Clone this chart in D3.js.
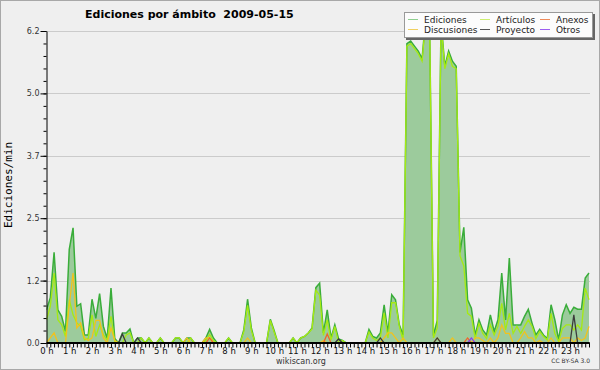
<!DOCTYPE html>
<html>
<head>
<meta charset="utf-8">
<script src="https://cdn.jsdelivr.net/npm/d3@7"></script>
<style>
  body { margin: 0; background: #efefef; }
  svg text { font-family: "DejaVu Sans", sans-serif; }
</style>
</head>
<body>
<div id="chart"></div>
<script>
// edits per minute, one value every 10 minutes (144 per day)
var ediciones = [
  0.66,0.9,1.8,0.66,0.53,0.23,1.86,2.29,0.73,0.78,0.16,0.16,
  0.87,0.49,0.98,0.33,0.09,1.09,0.09,0,0.2,0.2,0.28,0,
  0.1,0.1,0,0.1,0,0,0.1,0,0,0,0.1,0.1,
  0,0.1,0.1,0,0,0,0.1,0.27,0.1,0,0,0,
  0.1,0,0,0,0.26,0.87,0.3,0,0,0,0,0.47,
  0.25,0,0,0,0,0.1,0,0.1,0.13,0.2,0.3,1.1,
  1.19,0.2,0.66,0.1,0.36,0.08,0.05,0,0,0,0,0,
  0,0.27,0.13,0.1,0.2,0.76,0.2,0.96,0.86,0.36,0.16,5.95,
  6.0,5.9,5.8,5.65,6.5,6.3,0.15,0.45,6.4,5.5,5.8,5.6,
  5.5,1.8,2.3,0.86,0.69,0.16,0.46,0.26,0.16,0.56,0.23,0.46,
  1.39,0.46,1.69,0.36,0.36,0.36,0.53,0.67,0.39,0.16,0.27,0.16,
  0.09,0.76,0.46,0.06,0.56,0.76,0.59,0.71,0.67,0.67,1.29,1.39
];
var articulos = [
  0.46,0.73,1.39,0.46,0.36,0.13,0.86,0.56,0.4,0.33,0.06,0.09,
  0.56,0.13,0.36,0.16,0.06,0.53,0.03,0,0,0.16,0.2,0,
  0,0.1,0,0.1,0,0,0.1,0,0,0,0.1,0.1,
  0,0,0.1,0,0,0,0.05,0.17,0.05,0,0,0,
  0.1,0,0,0,0.22,0.75,0.25,0,0,0,0,0.45,
  0.22,0,0,0,0,0.1,0,0.1,0.13,0.2,0.28,1.05,
  0.95,0.15,0.46,0.06,0.33,0,0.05,0,0,0,0,0,
  0,0.22,0.1,0.05,0.1,0.6,0.1,0.8,0.8,0.33,0.05,5.9,
  5.95,5.85,5.75,5.6,6.45,6.25,0.1,0.3,6.35,5.45,5.75,5.5,
  5.45,1.73,1.53,0.59,0.53,0.09,0.39,0.19,0.09,0.36,0.16,0.33,
  0.79,0.26,0.59,0.19,0.33,0.19,0.33,0.46,0.33,0.09,0.23,0.13,
  0.06,0.59,0.19,0.03,0.29,0.36,0.36,0.26,0.36,0.26,1.09,0.86
];
var discusiones = [
  0,0.1,0.2,0,0,0,0.75,1.39,0.3,0.4,0.1,0.05,
  0.1,0.45,0.45,0.1,0,0.3,0.05,0,0,0,0,0,
  0,0,0,0,0,0,0,0,0,0,0,0,
  0,0.1,0,0,0,0,0.1,0.1,0,0,0,0,
  0,0,0,0,0,0.1,0,0,0,0,0,0,
  0,0,0,0,0,0,0,0,0,0,0,0,
  0,0.05,0,0,0,0,0,0,0,0,0,0,
  0,0,0,0,0,0.1,0.2,0.2,0.1,0,0.1,0,
  0,0,0,0,0,0,0,0.1,0,0,0,0.1,
  0,0,0,0,0,0.1,0.1,0.05,0,0.1,0,0.1,
  0.36,0.19,0.19,0,0,0.1,0.23,0.1,0.1,0,0.05,0,
  0,0.1,0,0,0.1,0.1,0.1,0,0.1,0.05,0.1,0.33
];
var proyecto = [
  0,0,0,0,0,0,0,0,0,0,0,0,
  0,0,0,0,0,0,0,0,0.18,0,0,0,
  0.1,0,0,0,0,0,0,0,0,0,0,0,
  0,0,0,0,0,0,0,0,0,0,0,0,
  0,0,0,0,0,0,0,0,0,0,0,0,
  0,0,0,0,0,0,0,0,0,0,0,0,
  0,0,0,0,0,0.08,0,0,0,0,0,0,
  0,0,0,0,0.1,0,0,0,0,0,0,0,
  0,0,0,0,0,0,0,0.1,0,0,0,0,
  0,0,0,0,0,0,0,0,0,0,0,0,
  0,0,0,0,0,0,0,0,0,0,0,0,
  0,0,0,0,0,0,0,0.56,0,0,0,0
];
var anexos = [
  0,0,0,0,0,0,0,0,0,0,0,0,
  0,0,0,0,0,0,0,0,0,0,0,0,
  0,0,0,0,0,0,0,0,0,0,0,0,
  0,0,0,0,0,0,0,0.1,0,0,0,0,
  0,0,0,0,0,0,0,0,0,0,0,0,
  0,0,0,0,0,0,0,0,0,0,0,0,
  0,0,0.18,0,0,0,0,0,0,0,0,0,
  0,0,0,0,0,0,0,0,0,0,0,0,
  0,0,0,0,0,0,0,0,0,0,0,0,
  0,0,0,0.1,0,0,0,0,0,0,0,0,
  0,0,0,0,0,0,0,0,0,0,0,0,
  0,0,0,0,0,0,0,0,0,0,0,0
];
var otros = [
  0,0,0,0,0,0,0,0,0,0,0,0,
  0,0,0,0,0,0,0,0,0,0,0,0,
  0,0,0,0,0,0,0,0,0,0,0,0,
  0,0,0,0,0,0,0,0,0,0,0,0,
  0,0,0,0,0,0,0,0,0,0,0,0,
  0,0,0,0,0,0,0,0,0,0,0,0,
  0,0,0,0,0,0,0,0,0,0,0,0,
  0,0,0,0,0,0,0,0,0,0,0,0,
  0,0,0,0,0,0,0,0,0,0,0,0,
  0,0,0,0,0.1,0,0,0,0,0,0,0,
  0,0,0,0,0,0,0,0,0,0,0,0,
  0,0,0,0,0,0,0,0,0,0,0,0
];
var hourLabels = d3.range(24).map(function(h) { return h + " h"; });
var yTicks = [0, 1.24, 2.48, 3.72, 4.96, 6.2];

var width = 600, height = 370;

var svg = d3.select("#chart").append("svg")
  .attr("width", width)
  .attr("height", height);

svg.append("rect")
  .attr("x", 0.5).attr("y", 0.5)
  .attr("width", width - 1).attr("height", height - 1)
  .attr("fill", "#efefef")
  .attr("stroke", "#a8a8a8");

var x = d3.scaleLinear().domain([0, 143]).range([46.5, 589]);
var y = d3.scaleLinear().domain([0, 6.2]).range([343, 31]);

// grid lines
svg.selectAll("line.grid")
  .data(yTicks.slice(1))
  .enter()
  .append("line")
  .attr("class", "grid")
  .attr("x1", x(0)).attr("x2", 590)
  .attr("y1", function(d) { return Math.round(y(d)) + 0.5; })
  .attr("y2", function(d) { return Math.round(y(d)) + 0.5; })
  .attr("stroke", "#cbcbcb");

svg.append("clipPath").attr("id", "plot")
  .append("rect")
  .attr("x", x(0)).attr("y", y(6.2))
  .attr("width", 590 - x(0)).attr("height", y(0) - y(6.2));

var plot = svg.append("g").attr("clip-path", "url(#plot)");

var area = d3.area()
  .x(function(d, i) { return x(i); })
  .y0(y(0))
  .y1(function(d) { return y(d); });

var line = d3.line()
  .x(function(d, i) { return x(i); })
  .y(function(d) { return y(d); });

plot.append("path")
  .datum(ediciones)
  .attr("d", area)
  .attr("fill", "#9ccb9c");

plot.append("path")
  .datum(ediciones)
  .attr("d", line)
  .attr("fill", "none")
  .attr("stroke", "#3aad3a")
  .attr("stroke-width", 1.5);

var series = [
  { values: articulos, color: "#a6ea12" },
  { values: discusiones, color: "#f2c21c" },
  { values: anexos, color: "#f0652a" },
  { values: proyecto, color: "#3c3c3c" },
  { values: otros, color: "#8a3cf0" }
];

series.forEach(function(s) {
  plot.append("path")
    .datum(s.values)
    .attr("d", line)
    .attr("fill", "none")
    .attr("stroke", s.color)
    .attr("stroke-width", 1.3);
});

// y axis
var yMinor = svg.append("g")
  .attr("transform", "translate(46.5,0)")
  .call(d3.axisLeft(y).tickValues(d3.range(26).map(function(i) { return i * 0.248; }))
    .tickSize(3).tickFormat(""));
yMinor.select(".domain").remove();

var yAxis = svg.append("g")
  .attr("transform", "translate(46.5,0)")
  .call(d3.axisLeft(y).tickValues(yTicks).tickSize(6).tickSizeOuter(0)
    .tickFormat(d3.format(".1f")));
yAxis.selectAll("text")
  .attr("font-size", 8)
  .attr("fill", "#333")
  .attr("x", -7);
yAxis.select(".domain").attr("stroke", "#000");

// x axis
var xAxis = svg.append("g")
  .attr("transform", "translate(0,342.5)")
  .call(d3.axisBottom(x).tickValues(d3.range(144)).tickSize(5).tickSizeOuter(0)
    .tickFormat(function(d) { return d % 6 === 0 ? hourLabels[d / 6] : ""; }));
xAxis.select(".domain").attr("stroke-width", 2.2);
xAxis.selectAll("text")
  .attr("font-size", 8.5)
  .attr("fill", "#111")
  .attr("y", 5);

// title and labels
svg.append("text")
  .attr("x", 85).attr("y", 18)
  .attr("font-size", 11).attr("font-weight", "bold")
  .style("white-space", "pre")
  .text("Ediciones por ámbito  2009-05-15");

svg.append("text")
  .attr("transform", "translate(12,185) rotate(-90)")
  .attr("text-anchor", "middle")
  .attr("font-size", 11)
  .style("font-family", "'DejaVu Sans Mono', monospace")
  .text("Ediciones/min");

svg.append("text")
  .attr("x", 301).attr("y", 364)
  .attr("text-anchor", "middle")
  .attr("font-size", 8).attr("fill", "#333")
  .text("wikiscan.org");

svg.append("text")
  .attr("x", 590).attr("y", 363)
  .attr("text-anchor", "end")
  .attr("font-size", 6).attr("fill", "#333")
  .text("CC BY-SA 3.0");

// legend
var legendItems = [
  { name: "Ediciones", color: "#8fcf8f", col: 0, row: 0 },
  { name: "Discusiones", color: "#f0d060", col: 0, row: 1 },
  { name: "Artículos", color: "#cdee70", col: 1, row: 0 },
  { name: "Proyecto", color: "#555", col: 1, row: 1 },
  { name: "Anexos", color: "#ee8a5a", col: 2, row: 0 },
  { name: "Otros", color: "#9c5ef0", col: 2, row: 1 }
];
var colX = [408, 480, 540];

var legend = svg.append("g");
legend.append("rect")
  .attr("x", 406).attr("y", 14)
  .attr("width", 189).attr("height", 26)
  .attr("fill", "#666");
legend.append("rect")
  .attr("x", 404.5).attr("y", 12.5)
  .attr("width", 188).attr("height", 25)
  .attr("fill", "#fcfcfc")
  .attr("stroke", "#999");

legend.selectAll("line.key")
  .data(legendItems)
  .enter()
  .append("line")
  .attr("class", "key")
  .attr("x1", function(d) { return colX[d.col]; })
  .attr("x2", function(d) { return colX[d.col] + 10; })
  .attr("y1", function(d) { return 19.5 + d.row * 10; })
  .attr("y2", function(d) { return 19.5 + d.row * 10; })
  .attr("stroke", function(d) { return d.color; });

legend.selectAll("text.key")
  .data(legendItems)
  .enter()
  .append("text")
  .attr("class", "key")
  .attr("x", function(d) { return colX[d.col] + 16; })
  .attr("y", function(d) { return 22.5 + d.row * 10; })
  .attr("font-size", 9)
  .attr("fill", "#222")
  .text(function(d) { return d.name; });
</script>
</body>
</html>
